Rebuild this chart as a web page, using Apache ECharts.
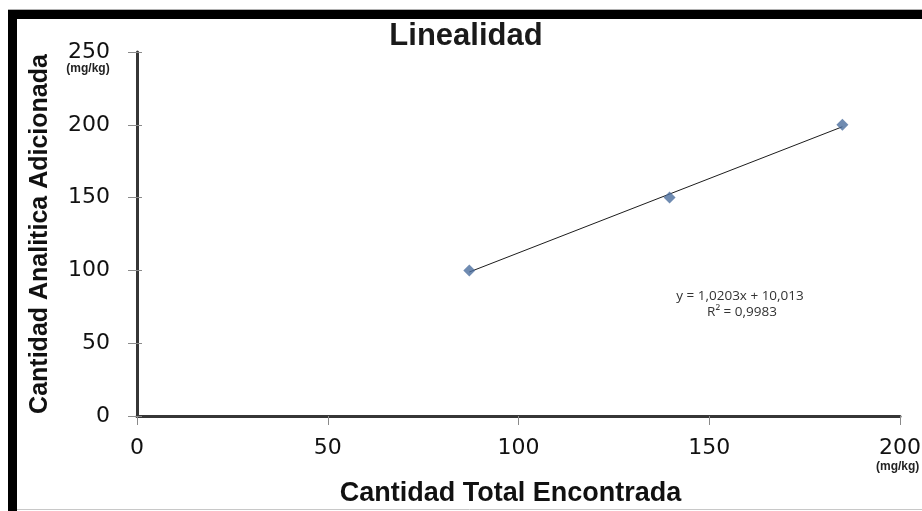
<!DOCTYPE html>
<html>
<head>
<meta charset="utf-8">
<script src="https://cdn.jsdelivr.net/npm/echarts@6/dist/echarts.min.js"></script>
<style>
  html, body { margin: 0; padding: 0; background: #fff; }
  #chart { width: 922px; height: 511px; }
</style>
</head>
<body>
<div id="chart"></div>
<script>
// Linearity data (mg/kg)
const found = [87.1, 139.6, 184.9];      // Cantidad Total Encontrada
const added = [100, 150, 200];           // Cantidad Analitica Adicionada
// Least-squares fit reported on the chart
const slope = 1.0203;
const intercept = 10.013;
const r2 = 0.9983;
const xTicks = [0, 50, 100, 150, 200];
const yTicks = [0, 50, 100, 150, 200, 250];

const points = found.map((x, i) => [x, added[i]]);
const xMin = Math.min(...found), xMax = Math.max(...found);
const trend = [[xMin, slope * xMin + intercept], [xMax, slope * xMax + intercept]];
const comma = (v, d) => v.toFixed(d).replace('.', ',');

const chart = echarts.init(document.getElementById('chart'), null, { renderer: 'canvas' });

const tickStyle = { color: '#8a8a8a', width: 1 };
const axisLineStyle = { color: '#363636', width: 3 };

chart.setOption({
  animation: false,
  backgroundColor: '#fff',
  title: {
    text: 'Linealidad',
    left: 461, top: 16, textAlign: 'center',
    textStyle: { fontFamily: 'Liberation Sans', fontSize: 31, fontWeight: 'bold', color: '#1a1a1a' }
  },
  grid: { left: 137, right: 22, top: 52, bottom: 95, containLabel: false, outerBoundsMode: 'none' },
  xAxis: {
    type: 'value', min: xTicks[0], max: xTicks[xTicks.length - 1], interval: 50,
    name: 'Cantidad Total Encontrada', nameLocation: 'middle', nameGap: 64,
    nameTextStyle: { fontFamily: 'Liberation Sans', fontSize: 27, fontWeight: 'bold', color: '#111', padding: [0, 16, 0, 0] },
    axisLine: { lineStyle: axisLineStyle },
    axisTick: { show: true, length: 9, lineStyle: tickStyle },
    axisLabel: { fontFamily: 'DejaVu Sans', fontSize: 22, color: '#111', margin: 21 },
    splitLine: { show: false }
  },
  yAxis: [{
    type: 'value', min: yTicks[0], max: yTicks[yTicks.length - 1], interval: 50,
    name: 'Cantidad Analitica Adicionada', nameLocation: 'middle', nameGap: 84,
    nameTextStyle: { fontFamily: 'Liberation Sans', fontSize: 25, fontWeight: 'bold', color: '#111' },
    axisLine: { lineStyle: axisLineStyle },
    axisTick: { show: true, length: 9, lineStyle: tickStyle },
    axisLabel: { fontFamily: 'DejaVu Sans', fontSize: 22, color: '#111', margin: 27 },
    splitLine: { show: false }
  }, {
    type: 'value', position: 'left', min: yTicks[0], max: yTicks[yTicks.length - 1], interval: 50,
    axisLine: { show: false },
    axisTick: { show: true, inside: true, length: 5, lineStyle: tickStyle },
    axisLabel: { show: false },
    splitLine: { show: false }
  }],
  series: [{
    name: 'Tendencia', type: 'line', data: trend, symbol: 'none',
    lineStyle: { color: '#1c1c1c', width: 1 }, z: 2, silent: true
  }, {
    name: 'Linealidad', type: 'scatter', data: points,
    symbol: 'diamond', symbolSize: 12,
    itemStyle: { color: '#4b6e9e' }, z: 3
  }]
});

// unit captions under the extreme tick labels, plus the fit equation
const p250 = chart.convertToPixel({ gridIndex: 0 }, [0, 250]);
const p200 = chart.convertToPixel({ gridIndex: 0 }, [200, 0]);
chart.setOption({
  graphic: [
    // frame
    { type: 'rect', shape: { x: 8, y: 10, width: 914, height: 9 }, style: { fill: '#000' }, silent: true },
    { type: 'rect', shape: { x: 8, y: 10, width: 9, height: 501 }, style: { fill: '#000' }, silent: true },
    { type: 'line', shape: { x1: 17, y1: 509.5, x2: 922, y2: 509.5 }, style: { stroke: '#c8c8c8', lineWidth: 1 }, silent: true },
    { type: 'line', shape: { x1: 8, y1: 9.5, x2: 922, y2: 9.5 }, style: { stroke: '#b0b0b0', lineWidth: 1 }, silent: true },
    {
      type: 'text', x: p250[0] - 49, y: p250[1] + 17,
      style: { text: '(mg/kg)', fontFamily: 'Liberation Sans', fontSize: 12, fontWeight: 'bold', fill: '#222', align: 'center', verticalAlign: 'middle' }
    },
    {
      type: 'text', x: p200[0] - 24, y: p200[1] + 51,
      style: { text: '(mg/kg)', fontFamily: 'Liberation Sans', fontSize: 12, fontWeight: 'bold', fill: '#222', align: 'left', verticalAlign: 'middle' }
    },
    {
      type: 'text', x: 740, y: 296,
      style: { text: 'y = ' + comma(slope, 4) + 'x + ' + comma(intercept, 3), fontFamily: 'Open Sans', fontSize: 13.5, fill: '#333', align: 'center', verticalAlign: 'middle' }
    },
    {
      type: 'text', x: 742, y: 312,
      style: { text: 'R² = ' + comma(r2, 4), fontFamily: 'Open Sans', fontSize: 13.5, fill: '#333', align: 'center', verticalAlign: 'middle' }
    }
  ]
});
</script>
</body>
</html>
